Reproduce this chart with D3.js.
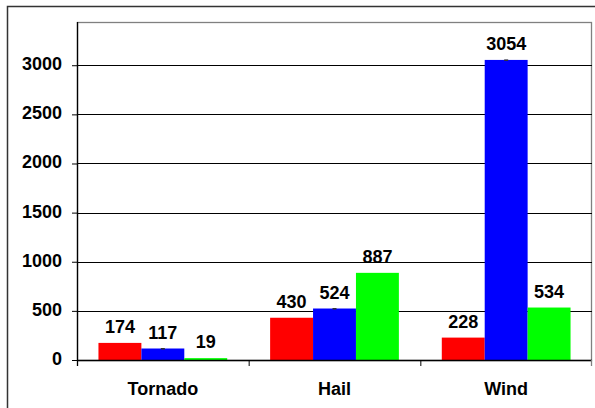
<!DOCTYPE html>
<html>
<head>
<meta charset="utf-8">
<script src="https://cdn.jsdelivr.net/npm/d3@7"></script>
<style>
  body { margin: 0; background: #fff; }
  svg text { font-family: "Liberation Sans", Arial, sans-serif; font-weight: bold; }
</style>
</head>
<body>
<div id="chart-area"></div>
<script>
// data
const categories = ["Tornado", "Hail", "Wind"]
const seriesNames = ["s1", "s2", "s3"]
const seriesColors = ["#ff0000", "#0000ff", "#00ff00"]
const series1 = [174, 430, 228]
const series2 = [117, 524, 3054]
const series3 = [19, 887, 534]
const yTicks = [0, 500, 1000, 1500, 2000, 2500, 3000]

const W = 595, H = 408
const MARGIN = {LEFT: 77, RIGHT: 3, TOP: 22, BOTTOM: 48}
const WIDTH = W - MARGIN.LEFT - MARGIN.RIGHT
const HEIGHT = H - MARGIN.TOP - MARGIN.BOTTOM
const FONT = 18

const svg = d3.select("#chart-area").append("svg")
    .attr("width", W)
    .attr("height", H)

// outer chart border (right/bottom fall outside the picture)
svg.append("rect")
    .attr("x", 7.5).attr("y", 6.5)
    .attr("width", W).attr("height", H)
    .attr("fill", "none")
    .attr("stroke", "#333")
    .attr("stroke-width", 1.5)

const g = svg.append("g")
    .attr("transform", `translate(${MARGIN.LEFT}, ${MARGIN.TOP})`)

const x = d3.scaleBand()
    .domain(categories)
    .range([0, WIDTH])
    .padding(0)

const xInner = d3.scaleBand()
    .domain(seriesNames)
    .range([0, x.bandwidth()])
    .paddingInner(0)
    .paddingOuter(0.5)

const y = d3.scaleLinear()
    .domain([0, 3440])
    .range([HEIGHT, 0])

// plot frame (top/right grey)
g.append("rect")
    .attr("x", 0.5).attr("y", 0.5)
    .attr("width", WIDTH - 1).attr("height", HEIGHT)
    .attr("fill", "none")
    .attr("stroke", "#808080")
    .attr("stroke-width", 1.3)

// gridlines
g.selectAll(".grid")
    .data(yTicks.filter(d => d > 0))
    .enter().append("line")
    .attr("x1", 0).attr("x2", WIDTH)
    .attr("y1", d => Math.round(y(d)) + 0.5)
    .attr("y2", d => Math.round(y(d)) + 0.5)
    .attr("stroke", "#000")
    .attr("stroke-width", 1)

// y axis
const yAxisCall = d3.axisLeft(y)
    .tickValues(yTicks)
    .tickFormat(d3.format("d"))
    .tickSize(5)
    .tickPadding(10)
const yAxis = g.append("g")
    .attr("class", "y axis")
    .call(yAxisCall)
yAxis.select(".domain").remove()
yAxis.selectAll("line").attr("stroke", "#000")
yAxis.selectAll("text")
    .attr("font-size", FONT + "px")
    .attr("dy", "0.25em")
    .attr("fill", "#000")
    .attr("font-family", "Liberation Sans, Arial, sans-serif")
    .attr("font-weight", "bold")
g.append("line")
    .attr("x1", 0.5).attr("x2", 0.5)
    .attr("y1", 0).attr("y2", HEIGHT + 6)
    .attr("stroke", "#000")
    .attr("stroke-width", 1.3)

// bars
const seriesData = [series1, series2, series3]
seriesData.forEach((vals, si) => {
    g.selectAll(".bar" + si)
        .data(vals)
        .enter().append("rect")
        .attr("x", (d, i) => x(categories[i]) + xInner(seriesNames[si]))
        .attr("y", d => y(d))
        .attr("width", xInner.bandwidth())
        .attr("height", d => HEIGHT - y(d))
        .attr("fill", seriesColors[si])

    // value labels
    g.selectAll(".lab" + si)
        .data(vals)
        .enter().append("text")
        .attr("x", (d, i) => x(categories[i]) + xInner(seriesNames[si]) + xInner.bandwidth() / 2)
        .attr("y", d => y(d) - 10)
        .attr("text-anchor", "middle")
        .attr("font-size", FONT + "px")
        .attr("fill", "#000")
        .text(d => d)
})

// tiny marker at top of blue bars
g.selectAll(".mark")
    .data(series2)
    .enter().append("rect")
    .attr("x", (d, i) => x(categories[i]) + xInner("s2") + xInner.bandwidth() / 2 - 2)
    .attr("y", d => y(d) - 0.5)
    .attr("width", 4)
    .attr("height", 1.5)
    .attr("fill", "#333")

// x axis
const xAxisCall = d3.axisBottom(x).tickSize(0).tickPadding(22)
const xAxis = g.append("g")
    .attr("class", "x axis")
    .attr("transform", `translate(0, ${HEIGHT})`)
    .call(xAxisCall)
xAxis.select(".domain").remove()
xAxis.selectAll("text")
    .attr("font-size", FONT + "px")
    .attr("fill", "#000")
    .attr("font-family", "Liberation Sans, Arial, sans-serif")
    .attr("font-weight", "bold")
g.append("line")
    .attr("x1", 0).attr("x2", WIDTH)
    .attr("y1", HEIGHT + 0.5).attr("y2", HEIGHT + 0.5)
    .attr("stroke", "#000")
    .attr("stroke-width", 1.3)
// category separator ticks
g.selectAll(".xtick")
    .data(categories.slice(1))
    .enter().append("line")
    .attr("x1", d => x(d) + 0.5).attr("x2", d => x(d) + 0.5)
    .attr("y1", HEIGHT).attr("y2", HEIGHT + 6)
    .attr("stroke", "#000")
g.append("line")
    .attr("x1", WIDTH - 0.5).attr("x2", WIDTH - 0.5)
    .attr("y1", HEIGHT).attr("y2", HEIGHT + 6)
    .attr("stroke", "#808080")
    .attr("stroke-width", 1.3)
</script>
</body>
</html>
